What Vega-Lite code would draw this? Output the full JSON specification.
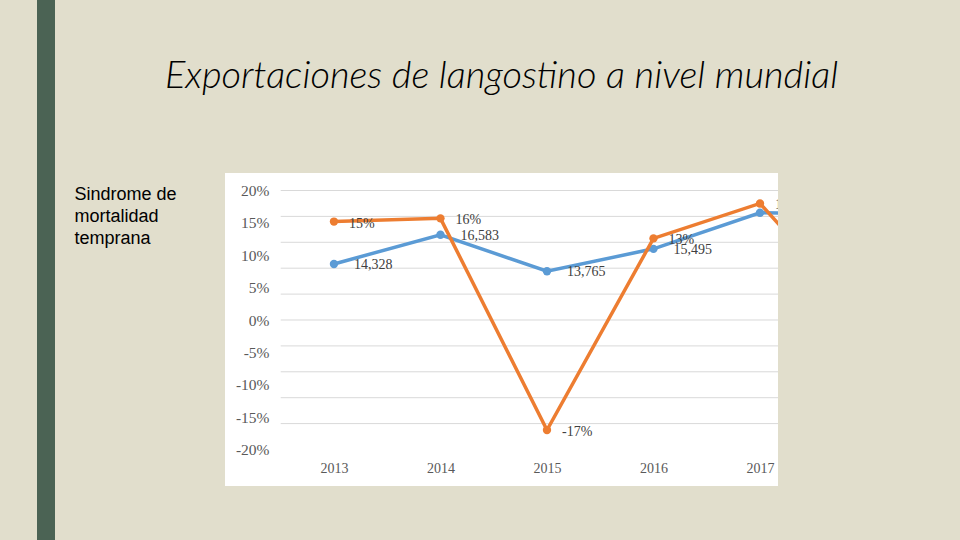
{
  "$schema": "https://vega.github.io/schema/vega-lite/v6.json",
  "background": "#E1DECC",
  "padding": {"left": 37, "top": 0, "right": 182, "bottom": 0},
  "bounds": "flush",
  "spacing": 170,
  "config": {
    "view": {"stroke": null},
    "locale": {"number": {"decimal": ".", "thousands": ",", "grouping": [3], "currency": ["$", ""], "minus": "-"}}
  },
  "datasets": {
    "exp": [
      {"year": 2013, "exports": 14328, "growth": 0.152},
      {"year": 2014, "exports": 16583, "growth": 0.157},
      {"year": 2015, "exports": 13765, "growth": -0.17},
      {"year": 2016, "exports": 15495, "growth": 0.126},
      {"year": 2017, "exports": 18280, "growth": 0.18},
      {"year": 2018, "exports": 18230, "growth": -0.003}
    ],
    "grid": [
      {"g": 2000}, {"g": 4000}, {"g": 6000}, {"g": 8000}, {"g": 10000},
      {"g": 12000}, {"g": 14000}, {"g": 16000}, {"g": 18000}, {"g": 20000}
    ]
  },
  "hconcat": [
    {
      "width": 18,
      "height": 540,
      "view": {"fill": "#4B6354", "stroke": null},
      "data": {"values": [{}]},
      "mark": {"type": "point", "opacity": 0}
    },
    {
      "bounds": "flush",
      "spacing": 0,
      "vconcat": [
        {
          "width": 553,
          "height": 173,
          "data": {"values": [{}]},
          "mark": {"type": "point", "opacity": 0}
        },
        {
          "width": 553,
          "height": 313,
          "view": {"fill": "#FFFFFF", "stroke": null},
          "title": {
            "text": "Exportaciones de langostino a nivel mundial",
            "anchor": "middle",
            "frame": "group",
            "font": "Lato",
            "fontStyle": "italic",
            "fontWeight": 300,
            "fontSize": 38,
            "color": "#000000",
            "baseline": "alphabetic",
            "offset": 47
          },
          "layer": [
            {
              "data": {"name": "grid"},
              "mark": {"type": "rule", "color": "#D9D9D9", "strokeWidth": 1, "clip": true},
              "encoding": {
                "x": {"datum": 2012.5, "type": "quantitative",
                      "scale": {"domain": [2011.977, 2017.169], "nice": false, "zero": false},
                      "axis": {"values": [2013, 2014, 2015, 2016, 2017], "format": "d", "title": null, "grid": false, "domain": false, "ticks": false, "offset": -25, "labelPadding": 0, "labelFont": "Liberation Serif", "labelFontSize": 14, "labelColor": "#595959", "labelOverlap": false, "labelBound": false, "labelFlush": false}},
                "x2": {"datum": 2018},
                "y": {"field": "g", "type": "quantitative",
                      "scale": {"domain": [-2819, 21351], "nice": false, "zero": false},
                      "axis": null}
              }
            },
            {
              "data": {"name": "exp"},
              "encoding": {
                "x": {"field": "year", "type": "quantitative",
                      "scale": {"domain": [2011.977, 2017.169], "nice": false, "zero": false},
                      "axis": {"values": [2013, 2014, 2015, 2016, 2017], "format": "d", "title": null, "grid": false, "domain": false, "ticks": false, "offset": -25, "labelPadding": 0, "labelFont": "Liberation Serif", "labelFontSize": 14, "labelColor": "#595959", "labelOverlap": false, "labelBound": false, "labelFlush": false}},
                "y": {"field": "exports", "type": "quantitative",
                      "scale": {"domain": [-2819, 21351], "nice": false, "zero": false},
                      "axis": null}
              },
              "layer": [
                {"mark": {"type": "line", "color": "#5B9BD5", "strokeWidth": 3.5, "clip": true}},
                {"mark": {"type": "point", "filled": true, "opacity": 1, "size": 70, "color": "#5B9BD5", "clip": true}},
                {"mark": {"type": "text", "align": "left", "baseline": "middle", "dx": 20, "dy": 1, "font": "Liberation Serif", "fontSize": 14, "color": "#404040", "clip": true},
                 "encoding": {"text": {"field": "exports", "type": "quantitative", "format": ","}}}
              ]
            },
            {
              "data": {"name": "exp"},
              "encoding": {
                "x": {"field": "year", "type": "quantitative",
                      "scale": {"domain": [2011.977, 2017.169], "nice": false, "zero": false},
                      "axis": {"values": [2013, 2014, 2015, 2016, 2017], "format": "d", "title": null, "grid": false, "domain": false, "ticks": false, "offset": -25, "labelPadding": 0, "labelFont": "Liberation Serif", "labelFontSize": 14, "labelColor": "#595959", "labelOverlap": false, "labelBound": false, "labelFlush": false}},
                "y": {"field": "growth", "type": "quantitative",
                      "scale": {"domain": [-0.25637, 0.22703], "nice": false, "zero": false},
                      "axis": {
                        "orient": "left", "offset": -49,
                        "values": [-0.2, -0.15, -0.1, -0.05, 0, 0.05, 0.1, 0.15, 0.2],
                        "format": ".0%", "grid": false, "domain": false, "ticks": false,
                        "labelPadding": 5, "labelFont": "Liberation Serif", "labelFontSize": 15.5, "labelColor": "#595959",
                        "title": ["Sindrome de", "mortalidad", "temprana"],
                        "titleFont": "Liberation Sans", "titleFontSize": 18, "titleFontWeight": "normal", "titleColor": "#000000",
                        "titleAngle": 0, "titleAlign": "left", "titleBaseline": "alphabetic",
                        "titleX": -200, "titleY": 26, "titleLineHeight": 22
                      }}
              },
              "layer": [
                {"mark": {"type": "line", "color": "#ED7D31", "strokeWidth": 3.5, "clip": true}},
                {"mark": {"type": "point", "filled": true, "opacity": 1, "size": 70, "color": "#ED7D31", "clip": true}},
                {"mark": {"type": "text", "align": "left", "baseline": "middle", "dx": 15, "dy": 2, "font": "Liberation Serif", "fontSize": 14, "color": "#404040", "clip": true},
                 "encoding": {"text": {"field": "growth", "type": "quantitative", "format": ".0%"}}}
              ]
            }
          ],
          "resolve": {"scale": {"y": "independent"}, "axis": {"y": "independent"}}
        }
      ]
    }
  ]
}
